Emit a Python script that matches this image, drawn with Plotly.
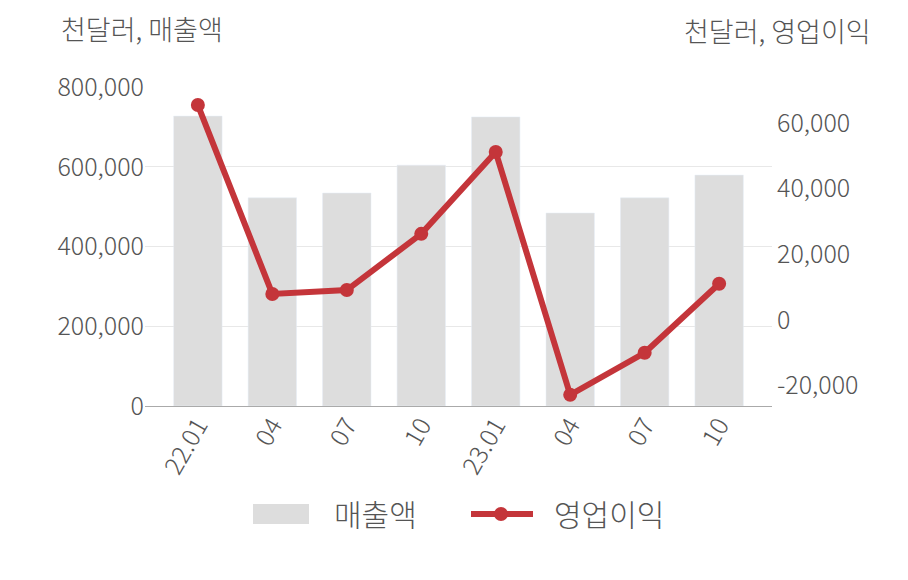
import plotly.graph_objects as go

quarters = ["22.01", "04", "07", "10", "23.01", "04 ", "07 ", "10 "]
tick_labels = ["22.01", "04", "07", "10", "23.01", "04", "07", "10"]
revenue = [727000, 522000, 534000, 604000, 725000, 484000, 522000, 579000]
op_profit = [65400, 7900, 9100, 26200, 51100, -22800, -10000, 11000]

left_ticks = [0, 200000, 400000, 600000, 800000]
left_labels = ["0", "200,000", "400,000", "600,000", "800,000"]
right_ticks = [-20000, 0, 20000, 40000, 60000]
right_labels = ["-20,000", "0", "20,000", "40,000", "60,000"]

FONT = "Noto Sans CJK KR"
TXT = "#555555"
RED = "#c4353a"
GREY = "#dddddd"

fig = go.Figure()
fig.add_trace(go.Bar(x=quarters, y=revenue, name="매출액",
                     marker_color=GREY, width=0.65))
fig.add_trace(go.Scatter(x=quarters, y=op_profit, name="영업이익", yaxis="y2",
                         mode="lines+markers",
                         line=dict(color=RED, width=6),
                         marker=dict(color=RED, size=14)))

# page shows an 8px body offset, so positions are given in screen pixels minus 8
W, H = 908, 580
OFF = 8
pl, pr, pt, pb = 145 - OFF, 772 - OFF, 87 - OFF, 406 - OFF
def px(x):
    return (x - OFF - pl) / (pr - pl)
def py(y):
    return (pb - (y - OFF)) / (pb - pt)

# legend drawn by hand so the swatches match the original size
shapes = [
    dict(type="rect", xref="paper", yref="paper", x0=px(253), x1=px(309), y0=py(524), y1=py(504),
         fillcolor=GREY, line=dict(width=0)),
    dict(type="line", xref="paper", yref="paper", x0=px(471), x1=px(533), y0=py(514), y1=py(514),
         line=dict(color=RED, width=6)),
    dict(type="circle", xref="paper", yref="paper", x0=px(494), x1=px(508), y0=py(521), y1=py(507),
         fillcolor=RED, line=dict(width=0)),
]

fig.update_layout(
    width=W, height=H,
    margin=dict(l=pl, r=W - pr, t=pt, b=H - pb, autoexpand=False),
    plot_bgcolor="white", paper_bgcolor="white",
    font=dict(family=FONT, color=TXT, size=25, weight=300),
    showlegend=False,
    shapes=shapes,
    xaxis=dict(range=[-0.71, 7.71], tickvals=quarters, ticktext=tick_labels,
               tickangle=-60, tickfont=dict(size=25), showgrid=False,
               showline=True, linecolor="#aaaaaa", linewidth=1, ticks="",
               ticklabelstandoff=-6, automargin=False),
    yaxis=dict(range=[0, 800000], tickvals=left_ticks, ticktext=left_labels,
               gridcolor="#e8e8e8", zeroline=False,
               showline=False, ticks="", ticklen=6, tickcolor="white", automargin=False),
    yaxis2=dict(overlaying="y", side="right", range=[-26200, 70900],
                tickvals=right_ticks, ticktext=right_labels,
                showgrid=False, zeroline=False, ticks="", ticklen=6, tickcolor="white",
                ticklabelstandoff=4, automargin=False),
    annotations=[
        dict(text="천달러, 매출액", xref="paper", yref="paper", x=px(59), y=py(28),
             xanchor="left", yanchor="middle", showarrow=False, font=dict(size=27)),
        dict(text="천달러, 영업이익", xref="paper", yref="paper", x=px(873), y=py(31),
             xanchor="right", yanchor="middle", showarrow=False, font=dict(size=27)),
        dict(text="매출액", xref="paper", yref="paper", x=px(332), y=py(513),
             xanchor="left", yanchor="middle", showarrow=False, font=dict(size=30)),
        dict(text="영업이익", xref="paper", yref="paper", x=px(552), y=py(513),
             xanchor="left", yanchor="middle", showarrow=False, font=dict(size=30)),
    ],
)

fig.write_html("out.html")
